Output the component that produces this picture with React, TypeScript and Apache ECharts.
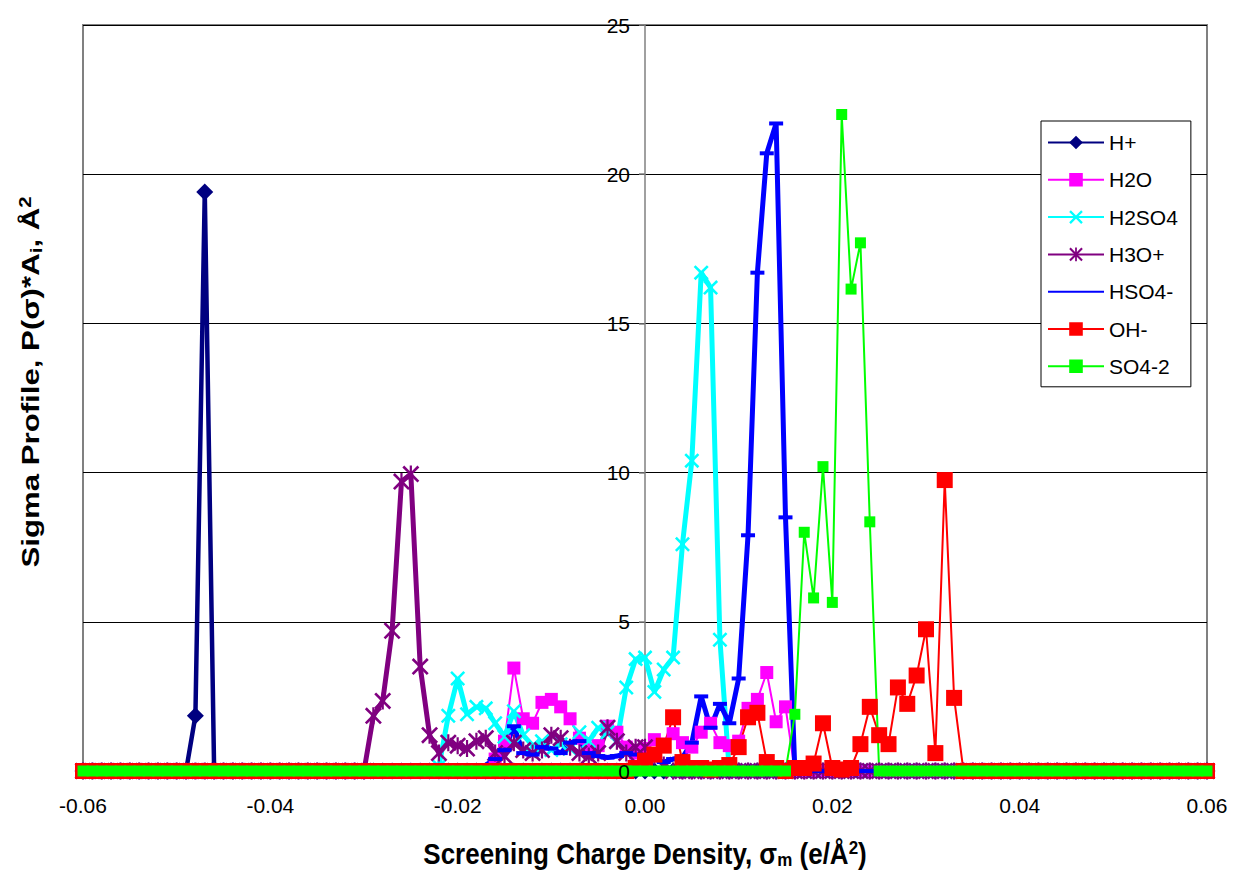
import React, { useEffect, useRef } from "react";
import * as echarts from "echarts";

// σ grid of the profiles (e/Å²)
const SIGMA_MIN = -0.06;
const SIGMA_MAX = 0.06;
const SIGMA_STEP = 0.001;
const X_TICK_STEP = 0.02;
const Y_MAX = 25;
const Y_TICK_STEP = 5;

// Each profile is zero outside the stretch listed here:
// first σ of the stretch, then one value per 0.001 step.
const H_PLUS_START = -0.048;
const H_PLUS = [1.85, 19.4];

const H2O_START = -0.016;
const H2O = [
  0.4, 1.0, 3.45, 1.75, 1.6, 2.3, 2.4, 2.15, 1.75, 1.1, 0.75, 0.85, 1.5, 1.3, 0.8, 0.6,
  0.75, 1.05, 0.9, 1.25, 0.95, 0.8, 1.3, 1.6, 0.95, 0.85, 1.0, 2.1, 2.4, 3.3, 1.65, 2.15,
];

const H2SO4_START = -0.022;
const H2SO4 = [
  0.15, 1.85, 3.1, 1.9, 2.15, 2.1, 1.6, 1.15, 2.0, 1.2, 0.85, 1.0, 0.7, 0.9, 0.75, 1.3,
  1.0, 1.45, 1.3, 1.0, 2.8, 3.75, 3.8, 2.65, 3.4, 3.8, 7.6, 10.4, 16.7, 16.2, 4.4,
];

const H3O_START = -0.029;
const H3O = [
  1.85, 2.35, 4.7, 9.7, 9.95, 3.5, 1.2, 0.6, 0.95, 0.85, 0.75, 1.0, 1.1, 0.6, 0.5, 0.95,
  0.7, 0.6, 0.7, 1.2, 1.1, 0.8, 0.6, 0.5, 0.6, 1.45, 1.0, 0.6, 0.8, 0.8, 0.5, 0.2,
];

const HSO4_START = -0.017;
const HSO4 = [
  0.2, 0.4, 0.7, 1.5, 0.6, 0.55, 0.8, 0.75, 0.6, 0.95, 1.0, 0.6, 0.5, 0.45, 0.5, 0.6,
  0.55, 0.5, 0.4, 0.3, 0.4, 0.45, 0.95, 2.5, 1.45, 2.25, 1.6, 3.1, 7.9, 16.7, 20.7, 21.7, 8.5,
];

const OH_START = -0.001;
const OH = [
  0.1, 0.35, 0.55, 0.85, 1.8, 0.3, 0.1, 0.1, 0.05, 0.1, 0.2, 0.8, 1.8, 1.95, 0.3, 0.1, 0,
  0.1, 0.1, 0.25, 1.6, 0.1, 0.05, 0.1, 0.9, 2.15, 1.2, 0.9, 2.8, 2.25, 3.2, 4.75, 0.6, 9.75, 2.45,
];

const SO4_START = 0.016;
const SO4 = [1.9, 8.0, 5.8, 10.2, 5.65, 22.0, 16.15, 17.7, 8.35];

const FONT = "'Liberation Sans', Arial, Helvetica, sans-serif";

// marker shapes drawn as filled outlines
const X_MARK =
  "path://M0,1.2 L1.2,0 L5,3.8 L8.8,0 L10,1.2 L6.2,5 L10,8.8 L8.8,10 L5,6.2 L1.2,10 L0,8.8 L3.8,5 Z";
const STAR_MARK =
  "path://M0,1.1 L1.1,0 L5,3.9 L8.9,0 L10,1.1 L6.1,5 L10,8.9 L8.9,10 L5,6.1 L1.1,10 L0,8.9 L3.9,5 Z M4.35,0 L5.65,0 L5.65,10 L4.35,10 Z";

function profile(start: number, values: number[]): [number, number][] {
  const first = Math.round(start / SIGMA_STEP);
  const lo = Math.round(SIGMA_MIN / SIGMA_STEP);
  const hi = Math.round(SIGMA_MAX / SIGMA_STEP);
  const out: [number, number][] = [];
  for (let i = lo; i <= hi; i++) {
    const j = i - first;
    const v = j >= 0 && j < values.length ? values[j] : 0;
    out.push([Number((i * SIGMA_STEP).toFixed(3)), v]);
  }
  return out;
}

type Spec = {
  name: string;
  color: string;
  width: number;
  symbol: string;
  size: number | number[];
  start: number;
  values: number[];
};

const SPECS: Spec[] = [
  { name: "H+", color: "#000080", width: 4.5, symbol: "diamond", size: 17, start: H_PLUS_START, values: H_PLUS },
  { name: "H2O", color: "#FF00FF", width: 2, symbol: "rect", size: 13, start: H2O_START, values: H2O },
  { name: "H2SO4", color: "#00FFFF", width: 5, symbol: X_MARK, size: 15, start: H2SO4_START, values: H2SO4 },
  { name: "H3O+", color: "#800080", width: 5, symbol: STAR_MARK, size: 17, start: H3O_START, values: H3O },
  { name: "HSO4-", color: "#0000FF", width: 5, symbol: "rect", size: [14, 4], start: HSO4_START, values: HSO4 },
  { name: "OH-", color: "#FF0000", width: 2, symbol: "rect", size: 16, start: OH_START, values: OH },
  { name: "SO4-2", color: "#00FF00", width: 2, symbol: "rect", size: 11, start: SO4_START, values: SO4 },
];

// bold title text with a lowered subscript and a raised superscript
const TITLE_RICH = {
  b: { fontSize: 26, fontWeight: "bold", fontFamily: FONT, lineHeight: 28, fill: "#000" },
  s: { fontSize: 17, fontWeight: "bold", fontFamily: FONT, lineHeight: 10, verticalAlign: "bottom", fill: "#000" },
  p: { fontSize: 17, fontWeight: "bold", fontFamily: FONT, lineHeight: 12, verticalAlign: "top", fill: "#000" },
};

export default function App() {
  const ref = useRef<HTMLDivElement>(null);

  useEffect(() => {
    if (!ref.current) return;
    const chart = echarts.init(ref.current, undefined, { renderer: "svg" });

    const series = SPECS.map((s) => ({
      name: s.name,
      type: "line",
      data: profile(s.start, s.values),
      symbol: s.symbol,
      symbolSize: s.size,
      showAllSymbol: true,
      clip: false,
      silent: true,
      lineStyle: { color: s.color, width: s.width },
      itemStyle: { color: s.color },
      emphasis: { disabled: true },
    }));

    // the value axis sits on σ = 0, 562 px in from the left edge of the grid
    const yCommon = {
      type: "value",
      min: 0,
      max: Y_MAX,
      interval: Y_TICK_STEP,
      position: "left",
      offset: -562,
    };

    chart.setOption({
      animation: false,
      backgroundColor: "#ffffff",
      textStyle: { fontFamily: FONT },
      grid: {
        left: 83,
        right: 26,
        top: 25,
        bottom: 102,
        show: true,
        borderColor: "#808080",
        borderWidth: 2,
        backgroundColor: "transparent",
      },
      xAxis: {
        type: "value",
        min: SIGMA_MIN,
        max: SIGMA_MAX,
        interval: X_TICK_STEP,
        axisLine: { onZero: false, lineStyle: { color: "#808080", width: 1 } },
        axisTick: { show: false },
        splitLine: { show: false },
        axisLabel: {
          margin: 24,
          fontSize: 21,
          color: "#000",
          fontFamily: FONT,
          formatter: (v: number) => v.toFixed(2),
        },
      },
      yAxis: [
        {
          ...yCommon,
          axisLine: { show: true, onZero: false, lineStyle: { color: "#808080", width: 1.5 } },
          axisTick: { show: true, inside: false, length: 6, lineStyle: { color: "#808080", width: 1.5 } },
          splitLine: { show: true, lineStyle: { color: "#000000", width: 1 } },
          axisLabel: { show: false },
        },
        {
          // tick labels only, kept above the series so "0" stays readable
          ...yCommon,
          z: 10,
          axisLine: { show: false, onZero: false },
          axisTick: { show: false },
          splitLine: { show: false },
          axisLabel: { margin: 15, fontSize: 21, color: "#000", fontFamily: FONT },
        },
      ],
      legend: {
        orient: "vertical",
        left: 1041,
        top: 121,
        padding: [11, 13, 10, 6],
        itemWidth: 56,
        itemHeight: 17,
        itemGap: 16.3,
        backgroundColor: "#ffffff",
        borderColor: "#000000",
        borderWidth: 1,
        z: 20,
        selectedMode: false,
        textStyle: { fontSize: 21, color: "#000", fontFamily: FONT },
        data: SPECS.map((s) =>
          s.name === "HSO4-" ? { name: s.name, itemStyle: { opacity: 0 } } : { name: s.name }
        ),
      },
      graphic: [
        {
          type: "text",
          x: 645,
          y: 854,
          scaleY: 1.12,
          z: 30,
          style: {
            text: "{b|Screening Charge Density, σ}{s|m}{b| (e/Å}{p|2}{b|)}",
            align: "center",
            verticalAlign: "middle",
            fill: "#000",
            rich: TITLE_RICH,
          },
        },
        {
          type: "text",
          x: 31,
          y: 382,
          rotation: Math.PI / 2,
          scaleX: 1.2,
          scaleY: 0.95,
          z: 30,
          style: {
            text: "{b|Sigma Profile, P(σ)*A}{s|i}{b|, Å}{p|2}",
            align: "center",
            verticalAlign: "middle",
            fill: "#000",
            rich: TITLE_RICH,
          },
        },
      ],
      series,
    });

    return () => chart.dispose();
  }, []);

  return (
    <div
      ref={ref}
      style={{ position: "fixed", left: 0, top: 0, width: 1233, height: 873, background: "#fff" }}
    />
  );
}
